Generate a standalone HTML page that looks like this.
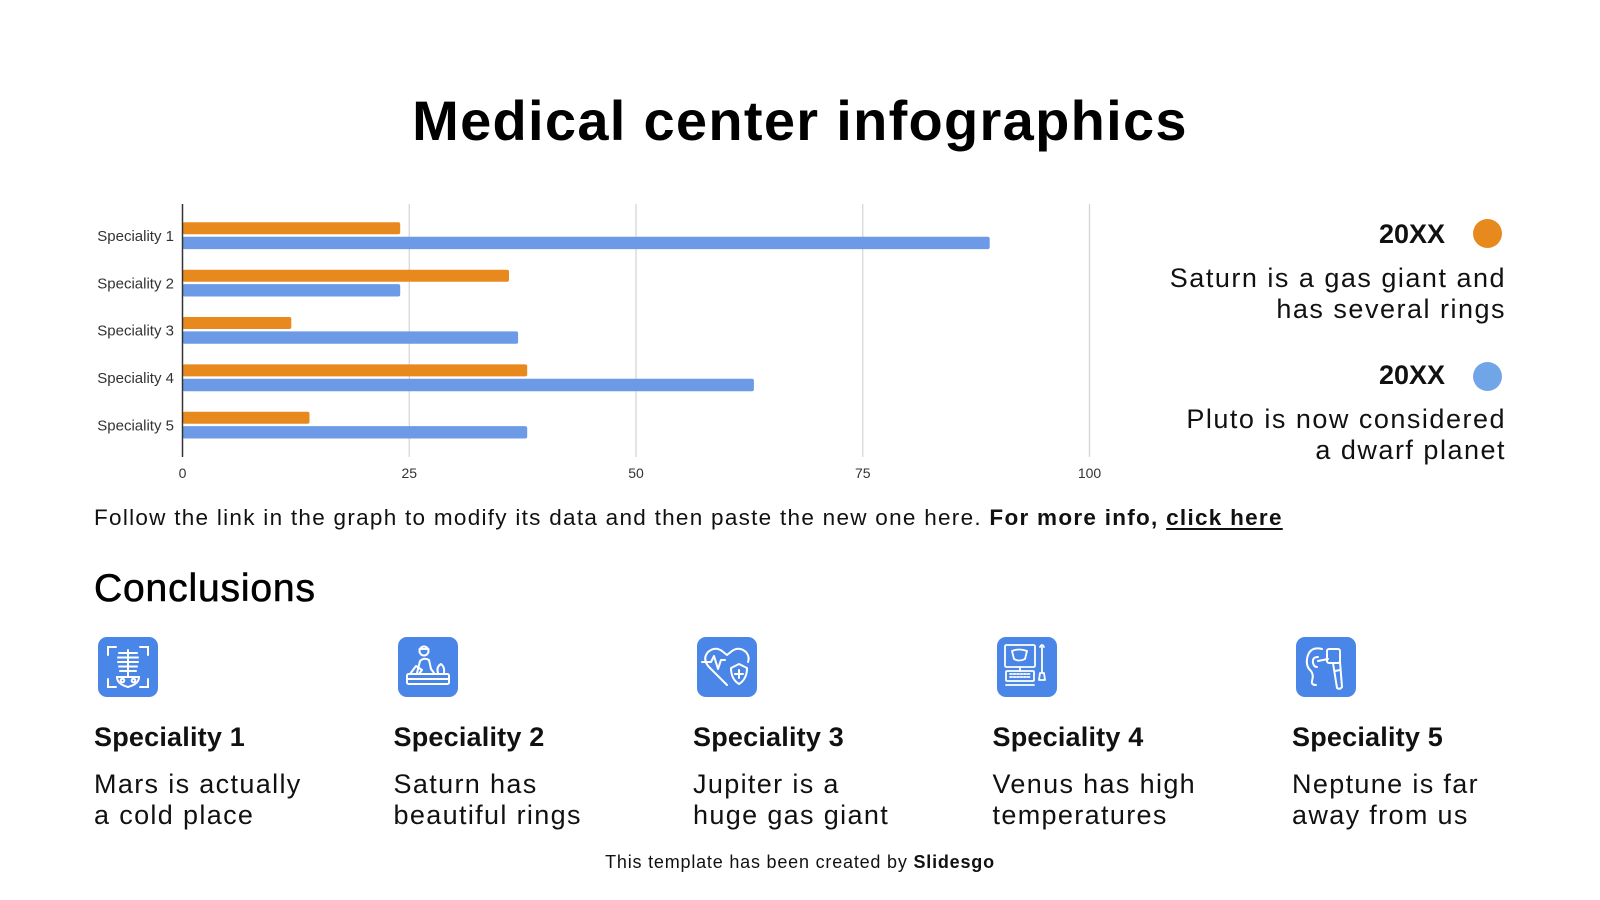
<!DOCTYPE html>
<html>
<head>
<meta charset="utf-8">
<style>
  html,body{margin:0;padding:0;}
  body{width:1600px;height:900px;position:relative;overflow:hidden;background:#fff;
       font-family:"Liberation Sans",Arial,sans-serif;color:#111;}
  .t{position:absolute;white-space:nowrap;}
  .title{left:0;width:1600px;text-align:center;top:92.6px;font-size:56px;line-height:56px;font-weight:bold;letter-spacing:1.3px;color:#000;}
  .yr{font-size:27px;line-height:27px;font-weight:bold;right:155px;color:#111;}
  .lg{font-size:27px;line-height:31.5px;right:94px;text-align:right;letter-spacing:1.5px;color:#111;}
  .dot{position:absolute;width:29px;height:29px;border-radius:50%;}
  .follow{left:94px;top:506.5px;font-size:22.5px;line-height:22.5px;letter-spacing:1.28px;color:#111;}
  .follow b{font-weight:bold;}
  .follow u{text-decoration:underline;text-underline-offset:3px;}
  .concl{left:94px;top:569px;font-size:39px;line-height:39px;letter-spacing:0.85px;color:#000;-webkit-text-stroke:0.6px #000;}
  .ch{top:724.1px;font-size:27px;line-height:27px;font-weight:bold;color:#111;letter-spacing:0.2px;}
  .cb{top:768.9px;font-size:27px;line-height:31.5px;letter-spacing:1.35px;color:#111;}
  .icon{position:absolute;top:637px;width:60px;height:60px;}
  .foot{left:0;width:1600px;text-align:center;top:852.8px;font-size:18px;line-height:18px;letter-spacing:0.8px;color:#111;}
</style>
</head>
<body>

<div class="t title">Medical center infographics</div>

<!-- Chart -->
<svg style="position:absolute;left:0;top:0" width="1150" height="500" xmlns="http://www.w3.org/2000/svg">
  <g stroke="#d3d3d3" stroke-width="1.2">
    <line x1="409.25" y1="204" x2="409.25" y2="457"/>
    <line x1="636" y1="204" x2="636" y2="457"/>
    <line x1="862.75" y1="204" x2="862.75" y2="457"/>
    <line x1="1089.5" y1="204" x2="1089.5" y2="457"/>
  </g>
  <g>
    <rect x="182.5" y="222.3" width="217.7" height="12" rx="2" fill="#e8891e"/>
    <rect x="182.5" y="236.7" width="807.2" height="12.4" rx="2" fill="#6d9ae6"/>

    <rect x="182.5" y="269.7" width="326.5" height="12" rx="2" fill="#e8891e"/>
    <rect x="182.5" y="284.1" width="217.7" height="12.4" rx="2" fill="#6d9ae6"/>

    <rect x="182.5" y="317" width="108.8" height="12" rx="2" fill="#e8891e"/>
    <rect x="182.5" y="331.4" width="335.6" height="12.4" rx="2" fill="#6d9ae6"/>

    <rect x="182.5" y="364.4" width="344.7" height="12" rx="2" fill="#e8891e"/>
    <rect x="182.5" y="378.8" width="571.4" height="12.4" rx="2" fill="#6d9ae6"/>

    <rect x="182.5" y="411.7" width="127" height="12" rx="2" fill="#e8891e"/>
    <rect x="182.5" y="426.1" width="344.7" height="12.4" rx="2" fill="#6d9ae6"/>
  </g>
  <line x1="182.5" y1="204" x2="182.5" y2="457" stroke="#333" stroke-width="1.5"/>
  <g font-family="Liberation Sans, Arial, sans-serif" font-size="15" fill="#333" text-anchor="end">
    <text x="174" y="241">Speciality 1</text>
    <text x="174" y="288.4">Speciality 2</text>
    <text x="174" y="335.7">Speciality 3</text>
    <text x="174" y="383.1">Speciality 4</text>
    <text x="174" y="430.4">Speciality 5</text>
  </g>
  <g font-family="Liberation Sans, Arial, sans-serif" font-size="14" fill="#333" text-anchor="middle">
    <text x="182.5" y="478">0</text>
    <text x="409.25" y="478">25</text>
    <text x="636" y="478">50</text>
    <text x="862.75" y="478">75</text>
    <text x="1089.5" y="478">100</text>
  </g>
</svg>

<!-- Legend -->
<div class="t yr" style="top:221.1px;">20XX</div>
<div class="dot" style="left:1472.5px;top:218.5px;background:#e8891d;"></div>
<div class="t lg" style="top:262.9px;">Saturn is a gas giant and<br>has several rings</div>

<div class="t yr" style="top:362.1px;">20XX</div>
<div class="dot" style="left:1472.5px;top:361.5px;background:#70a6e8;"></div>
<div class="t lg" style="top:403.9px;">Pluto is now considered<br>a dwarf planet</div>

<div class="t follow">Follow the link in the graph to modify its data and then paste the new one here. <b>For more info, <u>click here</u></b></div>

<div class="t concl">Conclusions</div>

<!-- Icons -->
<svg class="icon" style="left:98px" viewBox="0 0 60 60" xmlns="http://www.w3.org/2000/svg">
  <rect width="60" height="60" rx="9" fill="#4a86e8"/>
  <g fill="none" stroke="#fff" stroke-width="2" stroke-linecap="round">
    <path d="M10 18V10H18M42 10H50V18M50 42V50H42M18 50H10V42"/>
    <line x1="30" y1="13" x2="30" y2="40"/>
    <path d="M21 16H39M20 20.5H40M20 25H40M21 29.5H39M22 34H38"/>
    <path d="M19 40Q19 47 30 50Q41 47 41 40Z"/>
    <circle cx="24.5" cy="43.5" r="1.8"/>
    <circle cx="35.5" cy="43.5" r="1.8"/>
  </g>
</svg>

<svg class="icon" style="left:397.5px" viewBox="0 0 60 60" xmlns="http://www.w3.org/2000/svg">
  <rect width="60" height="60" rx="9" fill="#4a86e8"/>
  <g fill="none" stroke="#fff" stroke-width="2" stroke-linecap="round" stroke-linejoin="round">
    <circle cx="26" cy="14" r="4.5"/>
    <path d="M21.5 12H30.5"/>
    <path d="M19 36L22 24Q26 20 31 23L33 32"/>
    <path d="M12 37L18 29L24 33L21 37"/>
    <path d="M33 32L36 36"/>
    <path d="M40 36Q38 30 43 27Q47 30 46 36"/>
    <rect x="9" y="37" width="42" height="10" rx="1.5"/>
    <line x1="9" y1="42" x2="51" y2="42"/>
  </g>
</svg>

<svg class="icon" style="left:697px" viewBox="0 0 60 60" xmlns="http://www.w3.org/2000/svg">
  <rect width="60" height="60" rx="9" fill="#4a86e8"/>
  <g fill="none" stroke="#fff" stroke-width="2" stroke-linecap="round" stroke-linejoin="round">
    <path d="M30 48L12 30Q5 22 11 15Q18 9 25 14L30 18L35 14Q42 9 49 15Q53 20 51 25"/>
    <polyline points="5,25 14,25 17,19 21,32 24,23 28,23"/>
    <path d="M34 31L42 27L50 31Q50 42 42 47Q34 42 34 31Z"/>
    <path d="M42 33V41M38 37H46"/>
  </g>
</svg>

<svg class="icon" style="left:996.5px" viewBox="0 0 60 60" xmlns="http://www.w3.org/2000/svg">
  <rect width="60" height="60" rx="9" fill="#4a86e8"/>
  <g fill="none" stroke="#fff" stroke-width="1.8" stroke-linecap="round" stroke-linejoin="round">
    <rect x="8" y="8" width="30" height="22" rx="1.5"/>
    <path d="M15 14Q22 11 30 14L28 22Q22 25 17 22Z"/>
    <line x1="23" y1="30" x2="23" y2="34"/>
    <rect x="9" y="34" width="28" height="10" rx="1"/>
    <path d="M13 37H33M13 40H33" stroke-dasharray="2 1.5"/>
    <path d="M9 48H37"/>
    <path d="M45 10V36"/>
    <path d="M43 10Q45 6 47 10"/>
    <path d="M43 36H47L48 43H42Z"/>
  </g>
</svg>

<svg class="icon" style="left:1296px" viewBox="0 0 60 60" xmlns="http://www.w3.org/2000/svg">
  <rect width="60" height="60" rx="9" fill="#4a86e8"/>
  <g fill="none" stroke="#fff" stroke-width="2" stroke-linecap="round" stroke-linejoin="round">
    <path d="M26 12Q13 9 11 22Q10 30 15 34Q18 38 16 44Q15 48 20 48"/>
    <path d="M22 20Q16 20 17 26Q18 30 21 30"/>
    <path d="M22 24L32 22"/>
    <rect x="31" y="12" width="13" height="14" rx="2"/>
    <path d="M37 26L41 51Q44 53 46 50L44 25"/>
    <line x1="39" y1="34" x2="44" y2="33"/>
  </g>
</svg>

<!-- Cards -->
<div class="t ch" style="left:94px;">Speciality 1</div>
<div class="t cb" style="left:94px;">Mars is actually<br>a cold place</div>

<div class="t ch" style="left:393.5px;">Speciality 2</div>
<div class="t cb" style="left:393.5px;">Saturn has<br>beautiful rings</div>

<div class="t ch" style="left:693px;">Speciality 3</div>
<div class="t cb" style="left:693px;">Jupiter is a<br>huge gas giant</div>

<div class="t ch" style="left:992.5px;">Speciality 4</div>
<div class="t cb" style="left:992.5px;">Venus has high<br>temperatures</div>

<div class="t ch" style="left:1292px;">Speciality 5</div>
<div class="t cb" style="left:1292px;">Neptune is far<br>away from us</div>

<div class="t foot">This template has been created by <b>Slidesgo</b></div>

</body>
</html>
